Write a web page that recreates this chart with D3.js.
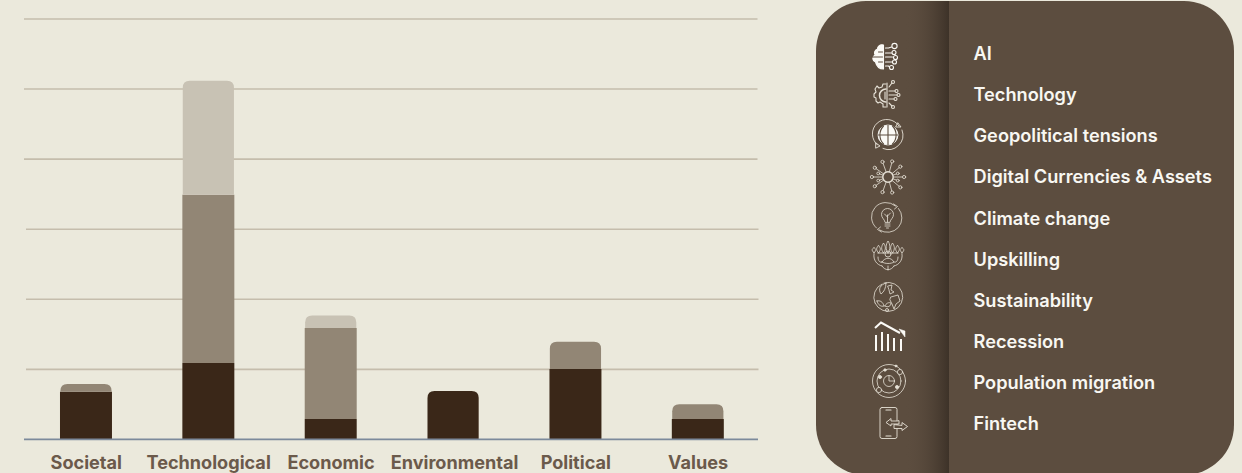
<!DOCTYPE html>
<html>
<head>
<meta charset="utf-8">
<script src="https://cdn.jsdelivr.net/npm/d3@7"></script>
<style>
    html, body { margin: 0; padding: 0; background: #ebe9dc; overflow: hidden; }
    svg { display: block; }
    text { font-family: Inter, 'Noto Sans', sans-serif; }
    .cat-label { font-size: 18.1px; font-weight: 700; fill: #6b5a4b; text-anchor: middle; }
    .legend-label { font-size: 18.2px; font-weight: 600; fill: #f8f7f2; }
</style>
</head>
<body>
<svg id="chart" width="1242" height="473"></svg>
<script>
const categories = ['Societal', 'Technological', 'Economic', 'Environmental', 'Political', 'Values']
const seriesNames = ['dark', 'mid', 'light']
const darkValues = [6.8, 10.9, 2.9, 6.9, 10.05, 2.9]
const midValues = [1.1, 24, 13, 0, 3.9, 2.1]
const lightValues = [0, 16.3, 1.8, 0, 0, 0]
const gridTicks = [10, 20, 30, 40, 50, 60]
const legendLabels = ['AI', 'Technology', 'Geopolitical tensions', 'Digital Currencies & Assets', 'Climate change',
    'Upskilling', 'Sustainability', 'Recession', 'Population migration', 'Fintech']

const BAR_WIDTH = 52
const CORNER = 7

const svg = d3.select('#chart')

const color = d3.scaleOrdinal()
    .domain(seriesNames)
    .range(['#3a2718', '#928675', '#c8c2b4'])

const x = d3.scaleBand()
    .domain(categories)
    .range([24.8, 759])
    .paddingInner(1 - BAR_WIDTH / 122.4)
    .paddingOuter((1 - BAR_WIDTH / 122.4) / 2)

const y = d3.scaleLinear()
    .domain([0, 60])
    .range([439.4, 19])

// gridlines, the lower three start a little further in
svg.append('g')
    .selectAll('line')
    .data(gridTicks)
    .enter().append('line')
    .attr('x1', (d) => d >= 40 ? 24 : 26)
    .attr('x2', (d) => d >= 40 ? 757.5 : 758.5)
    .attr('y1', (d) => y(d))
    .attr('y2', (d) => y(d))
    .attr('stroke', '#c5bdac')
    .attr('stroke-width', 1.6)

const rows = categories.map((name, i) => ({
    name: name,
    dark: darkValues[i],
    mid: midValues[i],
    light: lightValues[i]
}))
const stacked = d3.stack().keys(seriesNames)(rows)

const topSeries = (d) => d.light > 0 ? 'light' : d.mid > 0 ? 'mid' : 'dark'

const barPath = (x0, x1, yTop, yBottom, rounded) => {
    const p = d3.path()
    if (rounded) {
        p.moveTo(x0, yBottom)
        p.lineTo(x0, yTop + CORNER)
        p.quadraticCurveTo(x0, yTop, x0 + CORNER, yTop)
        p.lineTo(x1 - CORNER, yTop)
        p.quadraticCurveTo(x1, yTop, x1, yTop + CORNER)
        p.lineTo(x1, yBottom)
    } else {
        p.rect(x0, yTop, x1 - x0, yBottom - yTop)
    }
    p.closePath()
    return p.toString()
}

svg.append('g')
    .selectAll('g')
    .data(stacked)
    .enter().append('g')
    .attr('fill', (s) => color(s.key))
    .selectAll('path')
    .data((s) => s.map((d) => ({ key: s.key, d: d })).filter((e) => e.d[1] > e.d[0]))
    .enter().append('path')
    .attr('d', (e) => {
        const rounded = topSeries(e.d.data) === e.key
        const inset = rounded ? 0.4 : 0
        const left = x(e.d.data.name)
        return barPath(left + inset, left + x.bandwidth() - inset, y(e.d[1]), y(e.d[0]), rounded)
    })

// baseline
svg.append('line')
    .attr('x1', 24)
    .attr('x2', 758)
    .attr('y1', y(0))
    .attr('y2', y(0))
    .attr('stroke', '#7c8a9b')
    .attr('stroke-width', 1.8)

svg.append('g')
    .selectAll('text')
    .data(categories)
    .enter().append('text')
    .attr('class', 'cat-label')
    .attr('x', (d) => x(d) + x.bandwidth() / 2 + (d === 'Environmental' ? 1.5 : 0.3))
    .attr('y', 469)
    .text((d) => d)

// legend panel
const defs = svg.append('defs')
const shade = defs.append('linearGradient').attr('id', 'panel-shade')
shade.append('stop').attr('offset', '0%').attr('stop-color', '#5c4d3f').attr('stop-opacity', 0)
shade.append('stop').attr('offset', '100%').attr('stop-color', '#3d3228').attr('stop-opacity', 1)

const panel = svg.append('g')
panel.append('rect')
    .attr('x', 816)
    .attr('y', 1)
    .attr('width', 418)
    .attr('height', 474)
    .attr('rx', 50)
    .attr('fill', '#5c4d3f')
panel.append('rect')
    .attr('x', 905)
    .attr('y', 1)
    .attr('width', 44)
    .attr('height', 472)
    .attr('fill', 'url(#panel-shade)')

const legendY = d3.scalePoint()
    .domain(legendLabels)
    .range([53.6, 423.6])

panel.append('g')
    .selectAll('text')
    .data(legendLabels)
    .enter().append('text')
    .attr('class', 'legend-label')
    .attr('x', 973.5)
    .attr('y', (d) => legendY(d))
    .attr('dy', '0.36em')
    .text((d) => d)

// icons, simple line drawings around their own centre
const ICON_STROKE = '#e6e1d6'
const ICON_WHITE = '#fbfaf6'
const BG = '#5c4d3f'

const makeIcon = (cx, cy, sw) => panel.append('g')
    .attr('transform', 'translate(' + cx + ',' + cy + ')')
    .attr('fill', 'none')
    .attr('stroke', ICON_STROKE)
    .attr('stroke-width', sw)
    .attr('stroke-linecap', 'round')
    .attr('stroke-linejoin', 'round')

const circle = (g, cx, cy, r) => g.append('circle').attr('cx', cx).attr('cy', cy).attr('r', r)
const line = (g, d) => g.append('path').attr('d', d)

const spokes = (g, list, r0, r1, rNode) => {
    list.forEach((deg) => {
        const a = deg * Math.PI / 180
        g.append('line')
            .attr('x1', r0 * Math.cos(a)).attr('y1', r0 * Math.sin(a))
            .attr('x2', r1 * Math.cos(a)).attr('y2', r1 * Math.sin(a))
        circle(g, (r1 + rNode) * Math.cos(a), (r1 + rNode) * Math.sin(a), rNode)
    })
}

const iconAI = () => {
    const g = makeIcon(884.5, 57, 1.1).attr('stroke', ICON_WHITE)
    line(g, 'M-1,-12 C-5,-13 -7,-10 -7,-8 C-10,-7 -11,-3 -9,-2 C-13,0 -12,4 -9,5 C-8,9 -5,12 -1,12 Z')
        .attr('fill', ICON_WHITE)
    line(g, 'M-13,0 L-2,0').attr('stroke', BG).attr('stroke-width', 1)
    line(g, 'M-6,-5 L-2,-5 M-6,5 L-2,5').attr('stroke', BG).attr('stroke-width', 1)
    line(g, 'M1,-9 L4,-9 L7,-10 M1,-4 L7,-4 M1,0 L8,0 M1,5 L8,5 M1,9 L4,9 L5,10')
    circle(g, 10, -11, 2.6)
    circle(g, 9.5, -4.5, 2)
    circle(g, 11, 0.5, 2)
    circle(g, 10, 5, 2)
    circle(g, 7, 10.5, 2)
}

const iconTechnology = () => {
    const g = makeIcon(886, 95, 1.1)
    line(g, 'M0,-11 L-3,-11 L-4,-8 L-7,-7 L-9,-9 L-11,-6 L-10,-3 L-12,-1 L-12,2 L-10,3 L-10,6 L-8,8 L-6,7 L-3,9 L-3,12 L0,12')
    line(g, 'M0,-6 A6.5,6.5 0 0 0 0,7').attr('stroke-width', 1.5)
    line(g, 'M-1,-3 L-1,4 M1,-12 L1,12 M3,-8 L6,-12 M3,-4 L9,-4 M3,0 L11,0 M3,4 L8,4 M3,8 L6,11')
    circle(g, 7, -13, 1.5)
    circle(g, 10.5, -4, 1.5)
    circle(g, 12.5, 0, 1.5)
    circle(g, 9.5, 4, 1.5)
    circle(g, 7, 12, 1.5)
}

const iconGeopolitical = () => {
    const g = makeIcon(888, 135, 0.9)
    line(g, 'M11,-9 A14.5,14.5 0 1 0 -10.5,10')
    line(g, 'M-5,13.5 A14.5,14.5 0 0 0 14,-5')
    line(g, 'M10,-12 L13,-8 L8,-8 Z')
    line(g, 'M-12,8 L-8,11 L-12,13 Z')
    circle(g, 0, 0, 10).attr('fill', ICON_WHITE).attr('stroke', ICON_WHITE)
    line(g, 'M-10,0 L10,0 M0,-10 L0,10 M-4.5,-9 A13,13 0 0 0 -4.5,9 M4.5,-9 A13,13 0 0 1 4.5,9')
        .attr('stroke', BG)
        .attr('stroke-width', 1.1)
}

const iconDigital = () => {
    const g = makeIcon(888, 177, 0.8)
    circle(g, 0, 0, 5.2).attr('stroke-width', 1.4)
    spokes(g, [0, 40, 75, 110, 145, 180, 215, 250, 285, 320], 5.2, 14.5, 1.6)
    spokes(g, [20, 160, 200, 340], 5.2, 9, 1.4)
}

const iconClimate = () => {
    const g = makeIcon(887.5, 218, 0.8)
    line(g, 'M8,-12 A14.5,14.5 0 0 0 -11,10')
    line(g, 'M-8,12 A14.5,14.5 0 0 0 11,-9.5')
    line(g, 'M6,-14 L10,-11.5 L7,-9')
    line(g, 'M-6,14 L-10,11.5 L-7,9')
    line(g, 'M-2.5,4 C-3,1 -6,0 -6,-3.5 A6,6 0 0 1 6,-3.5 C6,0 3,1 2.5,4 Z')
    line(g, 'M-2.5,6 L2.5,6 M-2.5,8 L2.5,8 M-1,10 L1,10 M0,4 L0,-3 M0,-1 L-3,-4 M0,-2 L3,-5')
}

const iconUpskilling = () => {
    const g = makeIcon(888, 256, 0.8)
    circle(g, 0, -2, 3)
    line(g, 'M-6,6 C-3,1 3,1 6,6 C3,8 -3,8 -6,6 Z')
    const petals = [-14, -9.5, -4.5, 0, 4.5, 9.5, 14]
    petals.forEach((px) => {
        const top = -15 + Math.abs(px) * 0.45
        line(g, 'M' + px + ',-3 C' + (px - 3) + ',-7 ' + (px - 2) + ',' + (top + 3) + ' ' + px + ',' + top +
            ' C' + (px + 2) + ',' + (top + 3) + ' ' + (px + 3) + ',-7 ' + px + ',-3')
    })
    line(g, 'M-14,-2 C-15,4 -11,9 -6,10 M14,-2 C15,4 11,9 6,10 M-6,10 C-3,15 3,15 6,10 M-10,1 C-10,5 -8,7 -6,6 M10,1 C10,5 8,7 6,6 M0,10 L0,14 M-10,-3 L10,-3')
}

const iconSustainability = () => {
    const g = makeIcon(888, 297, 0.8)
    line(g, 'M-4,-14 A14.5,14.5 0 1 1 -13,6')
    line(g, 'M-13,6 A14.5,14.5 0 0 1 -6,-13')
    line(g, 'M-2,-14 C-8,-12 -10,-8 -7,-3 C-4,-5 -2,-9 -2,-14 Z')
    line(g, 'M0,-11 L4,-12 L3,-7 L6,-5 L2,-3 L1,-7 Z')
    line(g, 'M3,0 L10,-2 L12,4 L8,7 L6,12 L4,7 L2,3 Z')
    line(g, 'M-11,4 C-8,3 -5,5 -4,9 C-7,10 -10,8 -11,4 Z M-3,9 C-2,6 1,5 3,6 C3,9 0,11 -3,9 Z')
    circle(g, -1, 13, 1.5)
}

const iconRecession = () => {
    const g = makeIcon(890, 336, 2).attr('stroke', ICON_WHITE).attr('stroke-linecap', 'butt').attr('stroke-linejoin', 'miter')
    line(g, 'M-15,-8 L-9,-13.5 L10,-3')
    line(g, 'M9,-7 L15,-5 L15,1 Z').attr('fill', ICON_WHITE).attr('stroke-width', 0.5)
    line(g, 'M-14,-1 L-14,15 M-8,-4 L-8,15 M-2,-2 L-2,15 M4,2 L4,15 M11,3 L11,15')
}

const iconPopulation = () => {
    const g = makeIcon(889, 381, 0.8)
    circle(g, 0, 0, 16.5)
    circle(g, 0, 0, 12)
    circle(g, 0, 0, 5.5).attr('fill', BG)
    line(g, 'M0,-5.5 L0,0 L5.5,0')
    circle(g, 11, -9, 2.6).attr('fill', BG)
    circle(g, -10, 9, 2.6).attr('fill', BG)
    circle(g, 8, 6, 1.6).attr('fill', ICON_STROKE)
    circle(g, -9, -4, 1.6).attr('fill', ICON_STROKE)
    circle(g, -4, -11, 1.2).attr('fill', ICON_STROKE)
    circle(g, 7, -15, 1).attr('fill', ICON_STROKE)
}

const iconFintech = () => {
    const g = makeIcon(894, 423, 0.9)
    g.append('rect').attr('x', -14).attr('y', -15.5).attr('width', 17).attr('height', 31).attr('rx', 2)
    line(g, 'M-8,-13 L-3,-13 M-8,13 L-3,13').attr('stroke-width', 1.2)
    line(g, 'M3,-2 L-3,-2 L-3,-4.5 L-8,-0.5 L-3,3 L-3,1 L5,1 L5,-2 Z').attr('fill', BG)
    line(g, 'M8,2 L8,-0.5 L13.5,3.5 L8,7.5 L8,5.5 L0,5.5 L0,2 Z').attr('fill', BG)
}

const icons = [iconAI, iconTechnology, iconGeopolitical, iconDigital, iconClimate,
    iconUpskilling, iconSustainability, iconRecession, iconPopulation, iconFintech]
icons.forEach((draw) => draw())
</script>
</body>
</html>
